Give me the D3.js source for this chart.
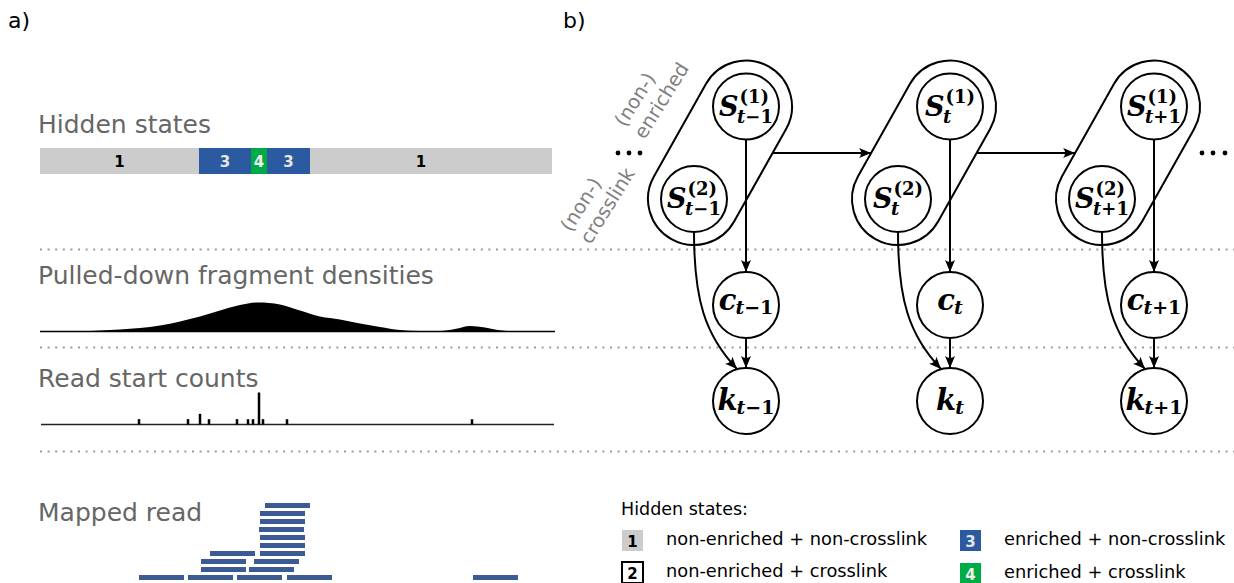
<!DOCTYPE html>
<html>
<head>
<meta charset="utf-8">
<script src="https://cdn.jsdelivr.net/npm/d3@7"></script>
<style>
  body { margin: 0; background: #fff; }
  svg { display: block; font-family: "DejaVu Sans", sans-serif; }
  .title { fill: #666; font-size: 25px; }
  .mi { font-family: "DejaVu Serif", serif; font-style: italic; font-weight: bold; }
  .mr { font-family: "DejaVu Serif", serif; font-style: normal; font-weight: bold; }
</style>
</head>
<body>
<svg id="fig" width="1234" height="583"></svg>
<script>
// ---- panel a data (positions in units along a 515-unit genomic window) ----
const stateSegments = [
  {state: 1, start: 0, end: 159},
  {state: 3, start: 159, end: 211},
  {state: 4, start: 211, end: 227},
  {state: 3, start: 227, end: 270},
  {state: 1, start: 270, end: 512}
];

const densityPos = [0, 40, 60, 80, 100, 120, 140, 160, 180, 200, 218, 240, 260, 280, 300, 320, 340, 360, 380, 400, 415, 430, 445, 460, 475, 515];
const densityVal = [0, 0.3, 1, 2, 3.5, 6, 10, 15, 21, 26.5, 29, 27, 21, 15, 12, 8, 4.5, 1.5, 0.6, 0.5, 2.5, 5.5, 4, 1.2, 0.2, 0];

const startPos = [99, 148, 160, 169, 197, 208, 213, 219, 223, 247, 432];
const startCounts = [1, 1, 2, 1, 1, 1, 1, 6, 1, 1, 1];

// read starts per stacking row, bottom row first
const readRows = [
  [99, 148, 197, 247, 433],
  [161, 209],
  [161, 214],
  [170, 220],
  [220],
  [220],
  [219],
  [220],
  [220],
  [225]
];
const readLength = 45;

// ---- legend ----
const legendStates = [1, 2, 3, 4];
const legendText = [
  'non-enriched + non-crosslink',
  'non-enriched + crosslink',
  'enriched + non-crosslink',
  'enriched + crosslink'
];
const stateFill = {1: '#cccccc', 2: '#ffffff', 3: '#2c5aa0', 4: '#00aa44'};
const stateInk = {1: '#000', 2: '#000', 3: '#e6e6e6', 4: '#eeeeee'};

// ---- panel b data ----
const slices = ['t−1', 't', 't+1'];

const svg = d3.select('#fig');

const defs = svg.append('defs');
defs.append('marker')
    .attr('id', 'head')
    .attr('viewBox', '-13 -6 14 12')
    .attr('refX', 0).attr('refY', 0)
    .attr('markerWidth', 14).attr('markerHeight', 12)
    .attr('markerUnits', 'userSpaceOnUse')
    .attr('orient', 'auto')
  .append('path')
    .attr('d', 'M0,0 L-12,-5 Q-8,0 -12,5 Z')
    .attr('fill', '#000');

// panel letters
svg.append('text').attr('x', 8).attr('y', 28).style('font-size', '22px').text('a)');
svg.append('text').attr('x', 563).attr('y', 28).style('font-size', '22px').text('b)');

// dotted separators
svg.append('g').selectAll('line').data([249.5, 347.5, 451.5]).join('line')
    .attr('x1', 40).attr('x2', 1234)
    .attr('y1', d => d).attr('y2', d => d)
    .attr('stroke', '#999').attr('stroke-width', 2)
    .attr('stroke-dasharray', '2,5.6');

// ================= panel a =================
const gx = d3.scaleLinear().domain([0, 515]).range([40, 555]);

svg.append('text').attr('class', 'title').attr('x', 38).attr('y', 133).text('Hidden states');
svg.append('text').attr('class', 'title').attr('x', 38).attr('y', 284).text('Pulled-down fragment densities');
svg.append('text').attr('class', 'title').attr('x', 38).attr('y', 387).text('Read start counts');
svg.append('text').attr('class', 'title').attr('x', 38).attr('y', 521).text('Mapped read');

// hidden state bar
const bar = svg.append('g');
bar.selectAll('rect').data(stateSegments).join('rect')
    .attr('x', d => gx(d.start))
    .attr('width', d => gx(d.end) - gx(d.start))
    .attr('y', 148).attr('height', 26)
    .attr('fill', d => stateFill[d.state]);
bar.selectAll('text').data(stateSegments).join('text')
    .attr('x', d => gx((d.start + d.end) / 2) - (d.end - d.start > 200 ? 10 : 0))
    .attr('y', 166.5)
    .attr('text-anchor', 'middle')
    .style('font-size', '15px').style('font-weight', 'bold')
    .attr('fill', d => stateInk[d.state])
    .text(d => d.state);

// fragment density
const dy = d3.scaleLinear().domain([0, 30]).range([331.5, 301.5]);
const densArea = d3.area()
    .x(d => gx(d[0]))
    .y0(dy(0))
    .y1(d => dy(d[1]))
    .curve(d3.curveMonotoneX);
svg.append('path')
    .datum(d3.zip(densityPos, densityVal))
    .attr('d', densArea)
    .attr('fill', '#000');
svg.append('line')
    .attr('x1', gx(0)).attr('x2', gx(515))
    .attr('y1', dy(0)).attr('y2', dy(0))
    .attr('stroke', '#000').attr('stroke-width', 1.5);

// read start counts
const cy = d3.scaleLinear().domain([0, 6]).range([424.5, 392.5]);
svg.append('line')
    .attr('x1', gx(1)).attr('x2', gx(514))
    .attr('y1', cy(0)).attr('y2', cy(0))
    .attr('stroke', '#222').attr('stroke-width', 1.5);
svg.append('g').selectAll('line').data(d3.zip(startPos, startCounts)).join('line')
    .attr('x1', d => gx(d[0])).attr('x2', d => gx(d[0]))
    .attr('y1', cy(0)).attr('y2', d => cy(d[1]))
    .attr('stroke', '#000').attr('stroke-width', 2.5);

// mapped reads
const rowY = d3.scaleLinear().domain([0, 9]).range([575, 503]);
const reads = readRows.flatMap((row, i) => row.map(s => ({row: i, start: s})));
svg.append('g').selectAll('rect').data(reads).join('rect')
    .attr('x', d => gx(d.start))
    .attr('width', d => gx(d.start + readLength) - gx(d.start))
    .attr('y', d => rowY(d.row))
    .attr('height', 5)
    .attr('fill', '#3c5a94');

// ================= panel b =================
const sx = d3.scaleLinear().domain([0, 2]).range([746, 1154]);
const S1y = 106.5, S2dx = -52, S2y = 199, cY = 305, kY = 401;
const nodeR = 33, capR = 46, linkY = 153;

const net = svg.append('g');

// capsule geometry
function capsule(ax, ay, bx, by, r) {
  const len = Math.hypot(bx - ax, by - ay);
  const ux = (bx - ax) / len, uy = (by - ay) / len;
  const nx = -uy, ny = ux;
  return `M${ax + nx * r},${ay + ny * r} L${bx + nx * r},${by + ny * r} ` +
         `A${r},${r} 0 0 0 ${bx - nx * r},${by - ny * r} ` +
         `L${ax - nx * r},${ay - ny * r} ` +
         `A${r},${r} 0 0 0 ${ax + nx * r},${ay + ny * r} Z`;
}
function capsuleEdge(i, y, side) {
  const ax = sx(i), bx = sx(i) + S2dx;
  const cxAt = ax + (y - S1y) * (bx - ax) / (S2y - S1y);
  const sinT = (S2y - S1y) / Math.hypot(bx - ax, S2y - S1y);
  return cxAt + side * capR / sinT;
}

slices.forEach((s, i) => {
  net.append('path')
      .attr('d', capsule(sx(i), S1y, sx(i) + S2dx, S2y, capR))
      .attr('fill', '#fff').attr('stroke', '#000').attr('stroke-width', 2);
});

// transitions between slices
d3.range(slices.length - 1).forEach(i => {
  net.append('line')
      .attr('x1', capsuleEdge(i, linkY, 1)).attr('y1', linkY)
      .attr('x2', capsuleEdge(i + 1, linkY, -1)).attr('y2', linkY)
      .attr('stroke', '#000').attr('stroke-width', 2)
      .attr('marker-end', 'url(#head)');
});

// S1 -> c, c -> k, S2 -> k
slices.forEach((s, i) => {
  const x = sx(i);
  net.append('line')
      .attr('x1', x).attr('y1', S1y + nodeR)
      .attr('x2', x).attr('y2', cY - nodeR)
      .attr('stroke', '#000').attr('stroke-width', 2)
      .attr('marker-end', 'url(#head)');
  net.append('line')
      .attr('x1', x).attr('y1', cY + nodeR)
      .attr('x2', x).attr('y2', kY - nodeR)
      .attr('stroke', '#000').attr('stroke-width', 2)
      .attr('marker-end', 'url(#head)');
  const x2 = x + S2dx;
  const p = d3.path();
  p.moveTo(x2, S2y + nodeR);
  p.bezierCurveTo(x2, 300, x2 + 11, 335, x - 9, kY - nodeR + 1);
  net.append('path')
      .attr('d', p.toString())
      .attr('fill', 'none').attr('stroke', '#000').attr('stroke-width', 2)
      .attr('marker-end', 'url(#head)');
});

// nodes
slices.forEach((s, i) => {
  const pts = [[sx(i), S1y], [sx(i) + S2dx, S2y], [sx(i), cY], [sx(i), kY]];
  net.append('g').selectAll('circle').data(pts).join('circle')
      .attr('cx', d => d[0]).attr('cy', d => d[1]).attr('r', nodeR)
      .attr('fill', '#fff').attr('stroke', '#000').attr('stroke-width', 2);
});

function mathLabel(cx, cyy, base, baseSize, sup, sub, subSize, lift) {
  const g = net.append('g');
  const b = g.append('text').attr('class', 'mi').style('font-size', baseSize + 'px').text(base);
  const bw = b.node().getComputedTextLength();
  let w = 0;
  if (sup) {
    const t = g.append('text').attr('class', 'mr').style('font-size', subSize + 'px')
        .attr('x', bw + 1).attr('y', -13).text(sup);
    w = Math.max(w, t.node().getComputedTextLength() + 1);
  }
  const off = base === 'S' ? -1.5 : -1;
  const st = g.append('text').style('font-size', subSize + 'px')
      .attr('x', bw + off).attr('y', base === 'S' ? 7 : 4);
  sub.match(/[a-z]|[^a-z]+/g).forEach(part => {
    st.append('tspan').attr('class', /[a-z]/.test(part) ? 'mi' : 'mr').text(part);
  });
  w = Math.max(w, st.node().getComputedTextLength() + off);
  g.attr('transform', `translate(${cx - (bw + w) / 2},${cyy + lift})`);
}

slices.forEach((s, i) => {
  mathLabel(sx(i), S1y, 'S', 27, '(1)', s, 18, 9);
  mathLabel(sx(i) + S2dx, S2y, 'S', 27, '(2)', s, 18, 9);
  mathLabel(sx(i), cY, 'c', 29, null, s, 19, 5);
  mathLabel(sx(i), kY, 'k', 29, null, s, 19, 9);
});

// ellipses at both ends
const dotX = [[618, 629, 640], [1202, 1213, 1225]];
net.append('g').selectAll('circle').data(dotX.flat()).join('circle')
    .attr('cx', d => d).attr('cy', linkY).attr('r', 2.4).attr('fill', '#000');

// rotated side labels
function sideLabel(x, y, lines) {
  const t = net.append('text')
      .attr('transform', `translate(${x},${y}) rotate(-58)`)
      .attr('fill', '#808080').style('font-size', '19.5px');
  lines.forEach((ln, j) => t.append('tspan').attr('x', 0).attr('y', j * 23).text(ln));
}
sideLabel(625, 128, ['(non-)', 'enriched']);
sideLabel(571, 233, ['(non-)', 'crosslink']);

// ================= legend =================
const legend = svg.append('g');
legend.append('text').attr('x', 621).attr('y', 515).style('font-size', '17.5px').text('Hidden states:');
const legendPos = [[622, 530], [622, 562], [960, 530], [960, 563]];
legendStates.forEach((st, i) => {
  const [lx, ly] = legendPos[i];
  legend.append('rect')
      .attr('x', lx).attr('y', ly).attr('width', 21).attr('height', 21)
      .attr('fill', stateFill[st])
      .attr('stroke', st === 2 ? '#000' : 'none').attr('stroke-width', 2);
  legend.append('text')
      .attr('x', lx + 10.5).attr('y', ly + 16.5)
      .attr('text-anchor', 'middle')
      .style('font-size', '15px').style('font-weight', 'bold')
      .attr('fill', stateInk[st])
      .text(st);
  legend.append('text')
      .attr('x', lx + 44).attr('y', ly + 15)
      .style('font-size', '17.8px')
      .text(legendText[i]);
});
</script>
</body>
</html>
